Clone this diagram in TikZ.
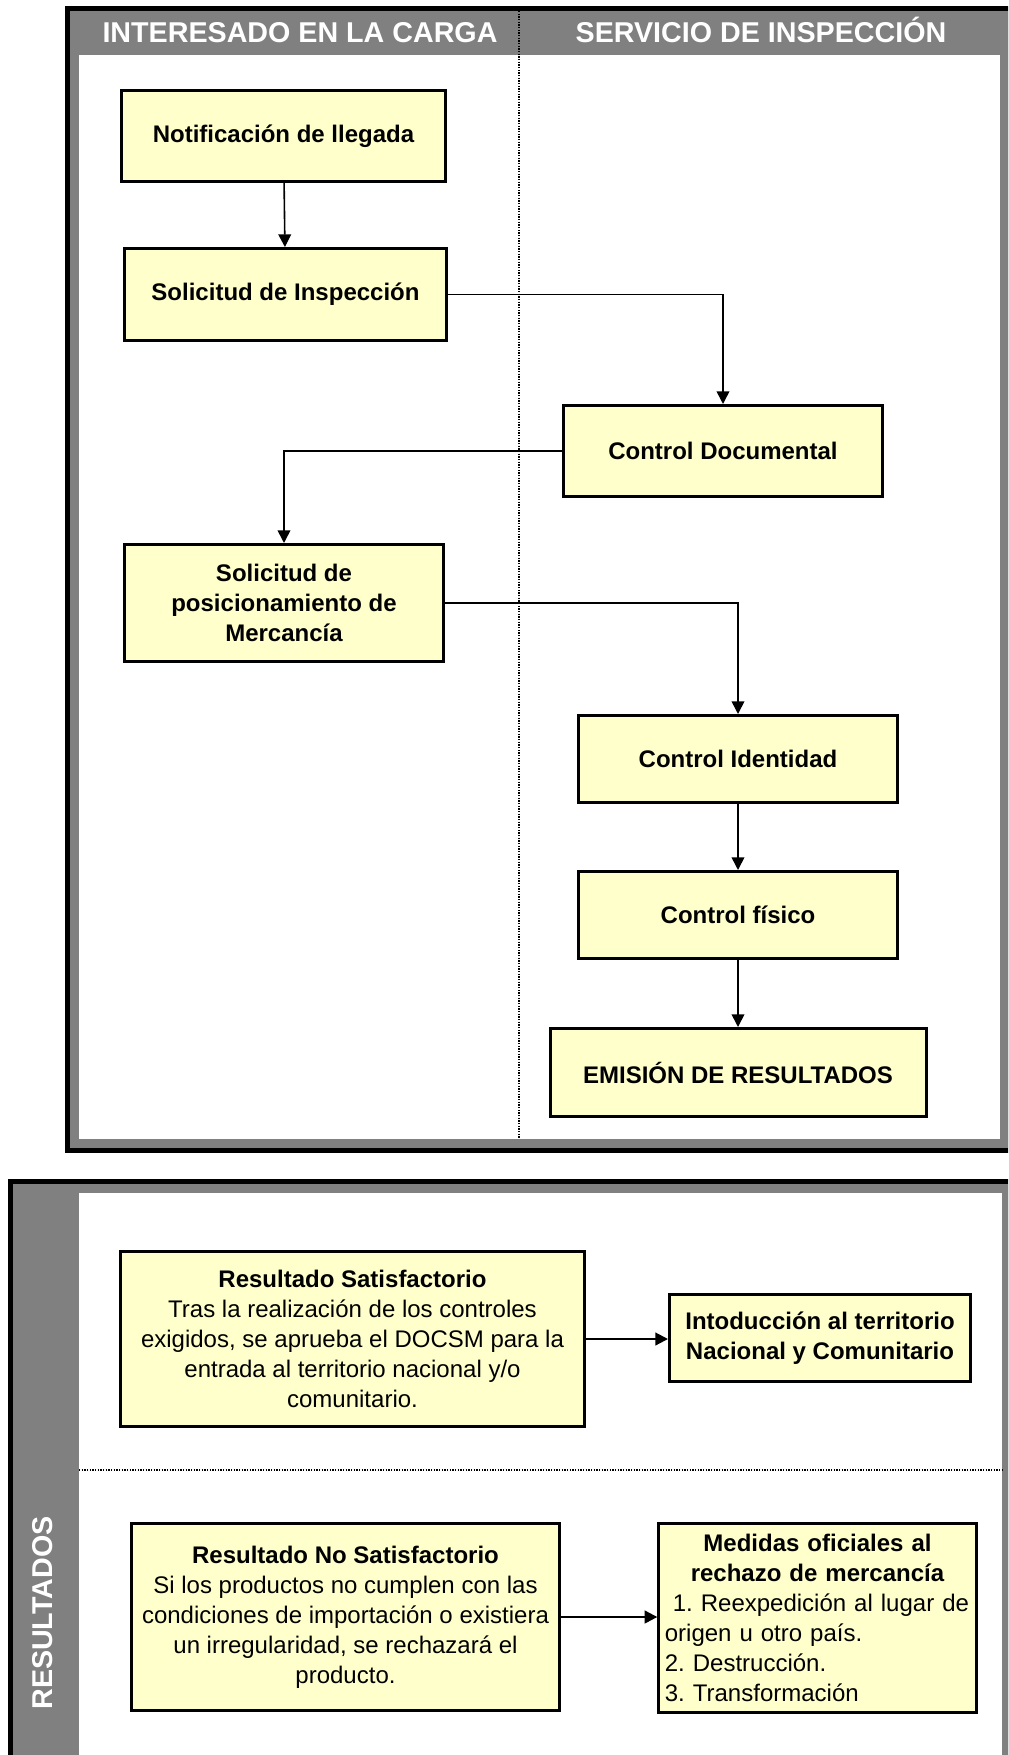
\documentclass[tikz,border=0pt]{standalone}
\usepackage{fontspec}
\setmainfont{Liberation Sans}
\usetikzlibrary{arrows.meta}
\definecolor{panelgray}{HTML}{808080}
\definecolor{boxfill}{HTML}{FFFFCC}
\frenchspacing
\begin{document}
\begin{tikzpicture}[x=0.75pt,y=-0.75pt,
  flowbox/.style={draw=black, line width=2.25pt, fill=boxfill, align=center, inner sep=3pt,
    font=\fontsize{18}{22.5}\selectfont\bfseries},
  resbox/.style={flowbox, font=\fontsize{18}{22.5}\selectfont\frenchspacing},
  link/.style={line width=1.2pt, -{Triangle[length=9.5pt,width=9.5pt]}},
  link2/.style={line width=1.6pt, -{Triangle[length=9.5pt,width=9.5pt]}},
  divider/.style={line width=1.5pt, dash pattern=on 1pt off 1pt},
  header/.style={text=white, inner sep=0pt, font=\fontsize{21.5}{25}\selectfont\bfseries},
  frame/.style={line width=3.75pt}]
\useasboundingbox (0,0) rectangle (1008,1755);
\clip (0,0) rectangle (1008,1755);
% ---------- top panel ----------
\fill[panelgray] (70,11) rectangle (1008,1148);
\fill[white] (79,55) rectangle (1000,1139);
\draw[frame] (67.5,8.5) rectangle (1010.5,1150.5);
\draw[divider] (519,11) -- (519,1139);
\node[header, anchor=base] (h1) at (300,43) {INTERESADO EN LA CARGA};
\node[header, anchor=base] (h2) at (761,43) {SERVICIO DE INSPECCIÓN};
% ---------- bottom panel ----------
\fill[panelgray] (13,1184) rectangle (1008,1760);
\fill[white] (79,1193) rectangle (1002,1760);
\draw[frame] (10.5,1181.5) rectangle (1010.5,1775);
\draw[divider] (79,1470) -- (1002,1470);
\node[header, rotate=90] (res) at (43,1613) {RESULTADOS};
% ---------- flow boxes ----------
\node[flowbox, minimum width=243pt, minimum height=68.25pt] (notif) at (283.5,136) {Notificación de llegada};
\node[flowbox, minimum width=241.5pt, minimum height=69pt] (solinsp) at (285.5,294.5) {Solicitud de Inspección};
\node[flowbox, minimum width=239.25pt, minimum height=68.25pt] (ctrldoc) at (723,451) {Control Documental};
\node[flowbox, minimum width=239.25pt, minimum height=87.75pt] (solpos) at (284,603) {Solicitud de\\posicionamiento de\\Mercancía};
\node[flowbox, minimum width=239.25pt, minimum height=65.25pt] (ctrlid) at (738,759) {Control Identidad};
\node[flowbox, minimum width=239.25pt, minimum height=65.25pt] (ctrlfis) at (738,915) {Control físico};
\node[flowbox, minimum width=282pt, minimum height=66pt] (emision) at (738,1072.5) {EMISIÓN DE RESULTADOS};
% ---------- result boxes ----------
\node[resbox, minimum width=348pt, minimum height=131.25pt] (ressat) at (352.5,1339)
  {\textbf{Resultado Satisfactorio}\\Tras la realización de los controles\\exigidos, se aprueba el DOCSM para la\\entrada al territorio nacional y/o\\comunitario.};
\node[flowbox, minimum width=225.75pt, minimum height=65.25pt] (intro) at (820,1338)
  {Intoducción al territorio\\Nacional y Comunitario};
\node[resbox, minimum width=321pt, minimum height=140.25pt] (resno) at (345.5,1617)
  {\textbf{Resultado No Satisfactorio}\\Si los productos no cumplen con las\\condiciones de importación o existiera\\un irregularidad, se rechazará el\\producto.};
\node[resbox, align=left, inner sep=4.5pt, text width=229pt, minimum height=141.75pt] (medidas) at (817.5,1618)
  {{\centering\bfseries Medidas oficiales al\\rechazo de mercancía\par}\raggedright\noindent\ 1. Reexpedición al lugar de\\origen u otro país.\\2. Destrucción.\\3. Transformación\par};
% ---------- connectors ----------
\draw[link] (notif) -- (solinsp);
\draw[link] (solinsp.east) -| (ctrldoc.north);
\draw[link] (ctrldoc.west) -| (solpos.north);
\draw[link] (solpos.east) -| (ctrlid.north);
\draw[link] (ctrlid) -- (ctrlfis);
\draw[link] (ctrlfis) -- (emision);
\draw[link2] (ressat.east) -- (intro.west |- ressat.east);
\draw[link2] (resno.east) -- (medidas.west |- resno.east);
\end{tikzpicture}
\end{document}
